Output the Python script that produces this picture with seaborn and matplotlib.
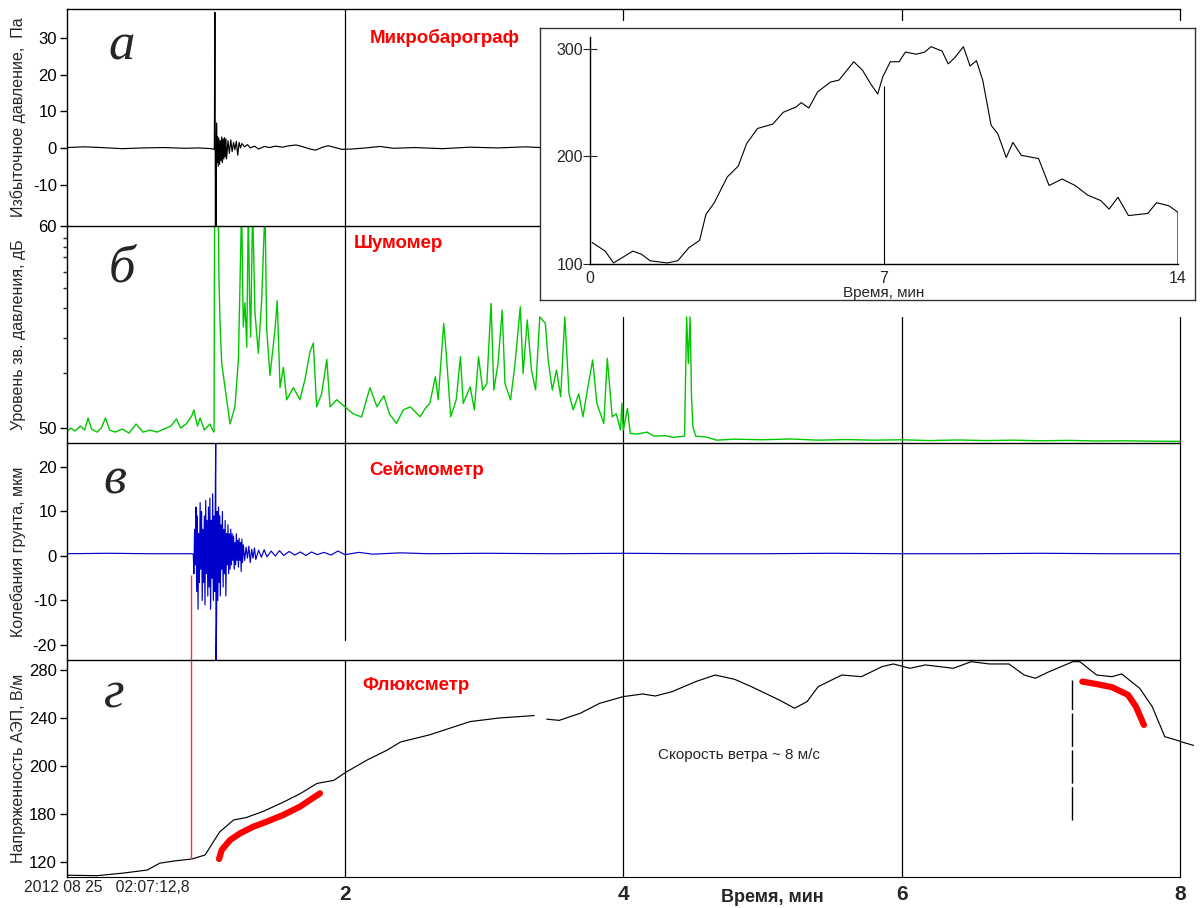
import matplotlib
matplotlib.use("Agg")
import matplotlib.pyplot as plt
import seaborn as sns

# time axis: minutes after 2012 08 25 02:07:12,8
# (а) microbarograph, Pa
baro_t = [0.0, 0.13, 0.25, 0.4, 0.55, 0.7, 0.85, 0.95, 1.04, 1.062,
          1.066, 1.070, 1.072, 1.074, 1.078, 1.082, 1.086, 1.090, 1.095, 1.100,
          1.105, 1.110, 1.115, 1.120, 1.125, 1.130, 1.135, 1.140, 1.145, 1.150,
          1.160, 1.170, 1.180, 1.190, 1.200, 1.210, 1.220, 1.230, 1.240, 1.250,
          1.260, 1.280, 1.300, 1.320, 1.350, 1.380, 1.420, 1.460, 1.500, 1.550,
          1.600, 1.650, 1.700, 1.750, 1.790, 1.840, 1.880, 1.930, 1.980, 2.050,
          2.150, 2.250, 2.350, 2.500, 2.700, 2.900, 3.100, 3.300, 3.500, 3.800,
          4.100, 4.400, 4.700, 5.000, 5.300, 5.600, 5.900, 6.200, 6.500, 6.800,
          7.100, 7.400, 7.700, 8.000]
baro_pa = [0.1, 0.3, 0.1, -0.2, 0.0, 0.1, -0.1, 0.0, -0.2, -0.4,
           37.0, -22.0, -5.0, -22.0, 6.8, -4.0, 3.0, -5.0, 2.5, -4.5,
           2.0, -3.5, 3.0, -4.0, 2.5, -3.0, 2.8, -2.5, 2.5, -3.0,
           2.0, -1.5, 2.2, -1.0, 1.5, -0.5, 1.8, -2.0, 1.5, 0.0,
           1.2, 0.3, 0.9, 0.0, 0.5, -0.3, 0.4, 0.1, 0.5, 0.2,
           0.6, 0.8, 0.3, -0.3, -0.6, 0.2, 0.6, 0.1, -0.4, -0.3,
           0.0, 0.4, -0.1, 0.1, -0.2, 0.2, 0.0, 0.3, -0.1, 0.1,
           0.0, 0.2, -0.1, 0.1, 0.0, -0.2, 0.1, 0.2, 0.0, -0.1,
           0.1, 0.0, 0.2, 0.1]

# (б) sound level meter, dB
noise_t = [0.0, 0.03, 0.06, 0.10, 0.13, 0.155, 0.18, 0.22, 0.25, 0.28,
           0.31, 0.35, 0.40, 0.45, 0.50, 0.55, 0.60, 0.65, 0.70, 0.75,
           0.79, 0.82, 0.86, 0.90, 0.915, 0.94, 0.96, 0.99, 1.03, 1.05,
           1.06, 1.064, 1.09, 1.095, 1.103, 1.115, 1.139, 1.175, 1.21, 1.235,
           1.258, 1.27, 1.282, 1.295, 1.306, 1.315, 1.323, 1.337, 1.354, 1.378,
           1.402, 1.426, 1.438, 1.462, 1.498, 1.514, 1.534, 1.558, 1.582, 1.63,
           1.677, 1.713, 1.75, 1.773, 1.797, 1.833, 1.87, 1.893, 1.941, 2.0,
           2.06, 2.12, 2.18, 2.23, 2.28, 2.32, 2.37, 2.42, 2.47, 2.54,
           2.58, 2.61, 2.65, 2.67, 2.71, 2.73, 2.76, 2.80, 2.83, 2.85,
           2.90, 2.93, 2.96, 2.99, 3.02, 3.05, 3.07, 3.10, 3.13, 3.15,
           3.19, 3.22, 3.26, 3.28, 3.31, 3.34, 3.37, 3.40, 3.44, 3.46,
           3.49, 3.52, 3.55, 3.58, 3.61, 3.64, 3.68, 3.71, 3.75, 3.78,
           3.81, 3.86, 3.885, 3.92, 3.95, 3.98, 3.99, 4.0, 4.03, 4.05,
           4.10, 4.17, 4.22, 4.30, 4.36, 4.44, 4.455, 4.467, 4.48, 4.49,
           4.50, 4.52, 4.60, 4.67, 4.8, 5.0, 5.2, 5.4, 5.6, 5.8,
           6.0, 6.2, 6.4, 6.6, 6.8, 7.0, 7.2, 7.4, 7.6, 7.8,
           8.0]
noise_db = [49.8, 50.0, 49.85, 50.1, 49.9, 50.5, 49.95, 49.8, 50.0, 50.5,
            49.9, 49.8, 49.95, 49.75, 50.2, 49.8, 49.9, 49.8, 49.95, 50.1,
            50.45, 50.0, 50.2, 50.6, 50.9, 50.1, 50.5, 49.9, 50.2, 49.9,
            49.8, 61, 61, 57.5, 55.2, 53.2, 52.0, 50.2, 51.05, 53.4,
            61, 55.0, 56.2, 54.0, 61, 56.5, 54.5, 61, 55.7, 53.7,
            56.3, 61, 54.9, 52.6, 54.9, 56.3, 52.0, 53.0, 51.4, 52.0,
            51.4, 52.4, 53.8, 54.2, 51.05, 51.7, 53.4, 51.05, 51.4, 51.05,
            50.7, 50.55, 52.0, 51.05, 51.6, 50.7, 50.23, 50.9, 51.05, 50.56,
            51.0, 51.22, 52.54, 51.4, 55.18, 53.5, 50.56, 51.4, 53.53, 51.22,
            52.04, 50.9, 53.53, 51.88, 52.2, 56.17, 51.88, 53.2, 55.84, 52.2,
            51.4, 53.04, 56.0, 52.7, 55.35, 52.87, 51.88, 55.5, 55.18, 53.37,
            51.88, 52.87, 51.55, 55.5, 51.7, 50.9, 51.7, 50.56, 52.2, 53.37,
            51.22, 50.23, 53.45, 50.56, 50.7, 49.9, 51.22, 49.9, 50.97, 49.74,
            49.7, 49.8, 49.6, 49.62, 49.54, 49.6, 55.5, 53.2, 55.5, 51.55,
            50.07, 49.6, 49.55, 49.4, 49.45, 49.42, 49.46, 49.4, 49.43, 49.4,
            49.42, 49.38, 49.41, 49.38, 49.4, 49.37, 49.39, 49.36, 49.37, 49.35,
            49.34]
noise_minor_ticks = [59.41, 58.96, 58.47, 57.72, 56.93, 55.94, 54.46, 52.72]

# (в) seismometer, um
seis_t = [0.0, 0.3, 0.6, 0.9, 0.911, 0.915, 0.92, 0.925, 0.93, 0.935,
          0.94, 0.945, 0.95, 0.955, 0.96, 0.965, 0.97, 0.975, 0.98, 0.985,
          0.99, 0.995, 1.0, 1.005, 1.01, 1.015, 1.02, 1.025, 1.03, 1.035,
          1.04, 1.045, 1.05, 1.055, 1.06, 1.065, 1.07, 1.072, 1.074, 1.078,
          1.082, 1.087, 1.092, 1.097, 1.10, 1.105, 1.11, 1.115, 1.12, 1.125,
          1.13, 1.135, 1.14, 1.145, 1.15, 1.155, 1.16, 1.165, 1.17, 1.175,
          1.18, 1.185, 1.19, 1.195, 1.20, 1.205, 1.21, 1.215, 1.22, 1.225,
          1.23, 1.235, 1.24, 1.245, 1.25, 1.255, 1.26, 1.265, 1.27, 1.28,
          1.29, 1.30, 1.31, 1.32, 1.33, 1.34, 1.35, 1.36, 1.38, 1.40,
          1.42, 1.44, 1.47, 1.50, 1.53, 1.56, 1.60, 1.64, 1.68, 1.72,
          1.76, 1.80, 1.85, 1.90, 1.95, 2.0, 2.1, 2.2, 2.4, 2.6,
          3.0, 3.5, 4.0, 4.5, 5.0, 5.5, 6.0, 6.5, 7.0, 7.5,
          8.0]
seis_um = [0.5, 0.6, 0.5, 0.5, 0.4, -4, 6, -2, 11, -8,
           9, -12, 5, -6, 12, -3, 10, -10, 6, -6,
           9, -11, 12.5, -4, 8, -9, 11, -7, 13, -12,
           8, -5, 14, -10, 9, -8, 18, 26, -24, -15,
           10, -10, 11, -6, 9, -9, 7, -3, 10, -7,
           6, -4, 8, -9, 5, -2, 7, -4, 5, -3,
           6, -2, 5, -1, 4.5, -3, 3, -2, 5, -1,
           3.5, -2.5, 4, -1, 3, -3.5, 3.8, -1.5, 2.5, -1,
           2, -0.5, 2.2, -1.5, 1.5, -0.5, 1.8, -0.8, 1.3, -0.3,
           1.4, -0.2, 1.1, 0.0, 1.2, 0.1, 1.0, 0.2, 0.9, 0.1,
           0.9, 0.3, 0.8, 0.2, 1.1, 0.3, 0.8, 0.4, 0.7, 0.5,
           0.6, 0.5, 0.6, 0.5, 0.5, 0.6, 0.5, 0.5, 0.6, 0.5,
           0.5]

# (г) fluxmeter, V/m (two pieces, recording gap near 3.4 min)
flux1_t = [0.0, 0.22, 0.41, 0.58, 0.67, 0.77, 0.9, 0.995, 1.04, 1.10,
           1.20, 1.29, 1.41, 1.56, 1.68, 1.80, 1.92, 2.01, 2.16, 2.30,
           2.40, 2.61, 2.90, 3.11, 3.36]
flux1_v = [109, 108.6, 110.8, 113.3, 119, 120.8, 122.5, 125.8, 134, 145,
           155, 157, 162, 170, 177, 185.5, 188, 195, 205, 213,
           220, 226, 237, 240, 242]
flux2_t = [3.45, 3.54, 3.69, 3.83, 4.0, 4.14, 4.23, 4.35, 4.52, 4.66,
           4.80, 4.92, 5.12, 5.23, 5.32, 5.40, 5.57, 5.71, 5.86, 5.94,
           6.06, 6.17, 6.37, 6.50, 6.63, 6.77, 6.88, 6.96, 7.06, 7.23,
           7.28, 7.40, 7.51, 7.58, 7.71, 7.80, 7.89, 7.97, 8.03, 8.11]
flux2_v = [239, 238, 243.9, 252.2, 257.8, 260, 258.3, 261.9, 270.3, 275.8,
           272.2, 266.1, 255, 248.1, 253.6, 266.1, 275.8, 274.4, 282.8, 285,
           281.4, 284.2, 281.4, 286.9, 285, 285, 275.8, 273.1, 278.6, 286.9,
           286.9, 275.8, 274.4, 276.7, 264.7, 249.4, 224.4, 221.7, 219.4, 216.7]
fit1_t = [1.096, 1.115, 1.175, 1.247, 1.342, 1.438, 1.557, 1.677, 1.821]
fit1_v = [122.5, 130, 138.3, 143.9, 149.4, 153.6, 159.2, 166.1, 177.2]
fit2_t = [7.298, 7.398, 7.512, 7.626, 7.683, 7.74]
fit2_v = [270.3, 268.3, 265.6, 259.2, 249.4, 234.2]
flux_ticks = [120, 160, 200, 240, 280]
flux_tick_labels = ["120", "180", "200", "240", "280"]
onset_t = 0.894
wind_t, wind_v0, wind_v1 = 7.22, 155, 272

# inset: fluxmeter over 14 min
inset_t = [0.05, 0.36, 0.56, 0.77, 1.02, 1.23, 1.43, 1.84, 2.09, 2.35,
           2.61, 2.76, 2.96, 3.27, 3.53, 3.73, 3.99, 4.35, 4.60, 4.91,
           5.03, 5.21, 5.42, 5.72, 5.93, 6.28, 6.49, 6.69, 6.85, 6.97,
           7.15, 7.36, 7.51, 7.77, 7.97, 8.12, 8.38, 8.53, 8.69, 8.89,
           9.05, 9.20, 9.35, 9.55, 9.71, 9.91, 10.07, 10.27, 10.68, 10.93,
           11.24, 11.55, 11.85, 12.16, 12.36, 12.57, 12.82, 13.28, 13.49, 13.79,
           14.0, 14.0]
inset_v = [120, 112, 101, 106, 112, 109, 103, 101, 103, 115,
           122, 146, 157, 181, 191, 212, 226, 230, 241, 246,
           250, 245, 260, 269, 271, 288, 280, 267, 258, 274,
           288, 288, 297, 295, 297, 302, 298, 286, 292, 302,
           284, 289, 271, 229, 221, 199, 213, 201, 198, 173,
           179, 173, 164, 159, 151, 162, 145, 147, 157, 154,
           148, 100]
inset_mark_t = 7

sns.set_style("white")
plt.rcParams["font.family"] = ["Liberation Sans", "DejaVu Sans"]
plt.rcParams["axes.unicode_minus"] = False

W, H = 1200, 908
fig = plt.figure(figsize=(12, 9.08), dpi=100)

def fpos(x, y):
    return x / W, 1 - y / H

X0, XPX, XMAX = 66.5, 139.2, 8.1
rows = [(9, 226), (226, 443), (443, 660), (660, 877)]
axs = []
for top, bot in rows:
    ax = fig.add_axes([X0 / W, 1 - bot / H, XMAX * XPX / W, (bot - top) / H])
    ax.set_facecolor("none")
    ax.set_xlim(0, XMAX)
    for s in ["right", "bottom"]:
        ax.spines[s].set_visible(False)
    for s in ["left", "top"]:
        ax.spines[s].set_color("black")
        ax.spines[s].set_linewidth(1.0)
    ax.spines["top"].set_bounds(0, 8)
    ax.tick_params(axis="y", direction="out", length=5, width=1, labelsize=12,
                   left=True, colors="black", pad=2)
    ax.tick_params(axis="x", bottom=False, labelbottom=False)
    axs.append(ax)
ax_a, ax_b, ax_c, ax_d = axs

lw = 0.85
sns.lineplot(x=baro_t, y=baro_pa, ax=ax_a, color="black", linewidth=lw,
             estimator=None, sort=False)
sns.lineplot(x=noise_t, y=noise_db, ax=ax_b, color="#00c800", linewidth=1.0,
             estimator=None, sort=False)
sns.lineplot(x=seis_t, y=seis_um, ax=ax_c, color="#0000cc", linewidth=lw,
             estimator=None, sort=False)
sns.lineplot(x=flux1_t, y=flux1_v, ax=ax_d, color="black", linewidth=lw,
             estimator=None, sort=False)
sns.lineplot(x=flux2_t, y=flux2_v, ax=ax_d, color="black", linewidth=lw,
             estimator=None, sort=False)
for ft, fv in [(fit1_t, fit1_v), (fit2_t, fit2_v)]:
    sns.lineplot(x=ft, y=fv, ax=ax_d, color="red", linewidth=4.5,
                 estimator=None, sort=False, solid_capstyle="round")

ax_a.set_ylim(-21.3, 37.9)
ax_a.set_yticks([-10, 0, 10, 20, 30])
ax_b.set_ylim(49.26, 60)
ax_b.set_yticks([50, 60])
ax_b.set_yticks(noise_minor_ticks, minor=True)
ax_b.tick_params(axis="y", which="minor", direction="out", length=3, width=1,
                 left=True)
ax_c.set_ylim(-23.4, 25.4)
ax_c.set_yticks([-20, -10, 0, 10, 20])
ax_d.set_ylim(107.5, 288.3)
ax_d.set_yticks(flux_ticks, labels=flux_tick_labels)

# grid lines at the minute marks
grid_spans = {
    0: {2: (0, 1), 4: (0.95, 1), 6: (0.95, 1), 8: (0.95, 1)},
    1: {2: (0, 1), 4: (0, 0.58), 6: (0, 0.58), 8: (0, 0.58)},
    2: {2: (0.09, 1), 4: (0, 1), 6: (0, 1), 8: (0, 1)},
    3: {2: (0, 1), 4: (0, 1), 6: (0, 1), 8: (0, 1)},
}
for i, ax in enumerate(axs):
    for xv, (y0, y1) in grid_spans[i].items():
        ax.axvline(xv, ymin=y0, ymax=y1, color="black", lw=0.9, zorder=0)

# bottom axis
ax_d.spines["bottom"].set_visible(True)
ax_d.spines["bottom"].set_color("black")
ax_d.spines["bottom"].set_bounds(0, 8)
ax_d.set_xticks([2, 4, 6, 8])
ax_d.tick_params(axis="x", bottom=True, labelbottom=True, length=0, pad=6,
                 labelsize=15)
for lbl in ax_d.get_xticklabels():
    lbl.set_fontweight("bold")

# markers on the event
ax_c.vlines(onset_t, -23.4, -4.3, colors="#ff3030", lw=1)
ax_d.vlines(onset_t, 122.5, 288.3, colors="#ff3030", lw=1)
ax_d.vlines(wind_t, wind_v0, wind_v1, colors="black", lw=1,
            linestyles=(0, (24, 2.5)))
ax_d.text(4.83, 209, "Скорость ветра ~ 8 м/с", fontsize=11,
          ha="center", va="center")

ylabels = ["Избыточное давление,  Па", "Уровень зв. давления, дБ",
           "Колебания грунта, мкм", "Напряженность АЭП, В/м"]
for ax, lab in zip(axs, ylabels):
    ax.set_ylabel(lab, fontsize=11.5)
    ax.yaxis.set_label_coords(-0.036, 0.5)
    ax.set_xlabel("")

titles = [("Микробарограф", 445, 38), ("Шумомер", 398, 244),
          ("Сейсмометр", 427, 470), ("Флюксметр", 416, 685)]
for txt, x, y in titles:
    fig.text(*fpos(x, y), txt, color="red", fontsize=13.5, fontweight="bold",
             ha="center", va="center")

letters = [("а", 122, 46), ("б", 122, 268), ("в", 115, 480), ("г", 114, 694)]
for txt, x, y in letters:
    fig.text(*fpos(x, y), txt, fontsize=38, style="italic",
             family=["Liberation Serif", "DejaVu Serif"],
             ha="center", va="center")

fig.text(*fpos(24, 888), "2012 08 25   02:07:12,8", fontsize=11.3,
         ha="left", va="center")
fig.text(*fpos(772, 897), "Время, мин", fontsize=13, fontweight="bold",
         ha="center", va="center")

# inset
box = fig.add_axes([540 / W, 1 - 300 / H, 655 / W, 272 / H])
box.set_facecolor("white")
box.set_xticks([])
box.set_yticks([])
for s in box.spines.values():
    s.set_color("#333333")
    s.set_linewidth(1.0)
box.set_zorder(5)

ins = fig.add_axes([590 / W, 1 - 264 / H, 588 / W, 227 / H])
ins.set_zorder(6)
ins.set_facecolor("none")
sns.lineplot(x=inset_t, y=inset_v, ax=ins, color="black", linewidth=0.8,
             estimator=None, sort=False)
ins.vlines(inset_mark_t, 100, 265, colors="black", lw=0.8)
ins.set_xlim(0, 14)
ins.set_ylim(100, 311)
ins.spines["top"].set_visible(False)
ins.spines["right"].set_visible(False)
for s in ["left", "bottom"]:
    ins.spines[s].set_color("black")
    ins.spines[s].set_linewidth(1.0)
ins.set_xticks([0, 7, 14])
ins.set_yticks([100, 200, 300])
ins.tick_params(axis="x", bottom=True, length=0, pad=5, labelsize=11.5)
ins.tick_params(axis="y", left=True, direction="inout", length=10, width=0.8,
                labelsize=11.5, pad=0)
ins.set_xlabel("Время, мин", fontsize=11, labelpad=0)
ins.set_ylabel("")

fig.savefig("out.png", dpi=100)
